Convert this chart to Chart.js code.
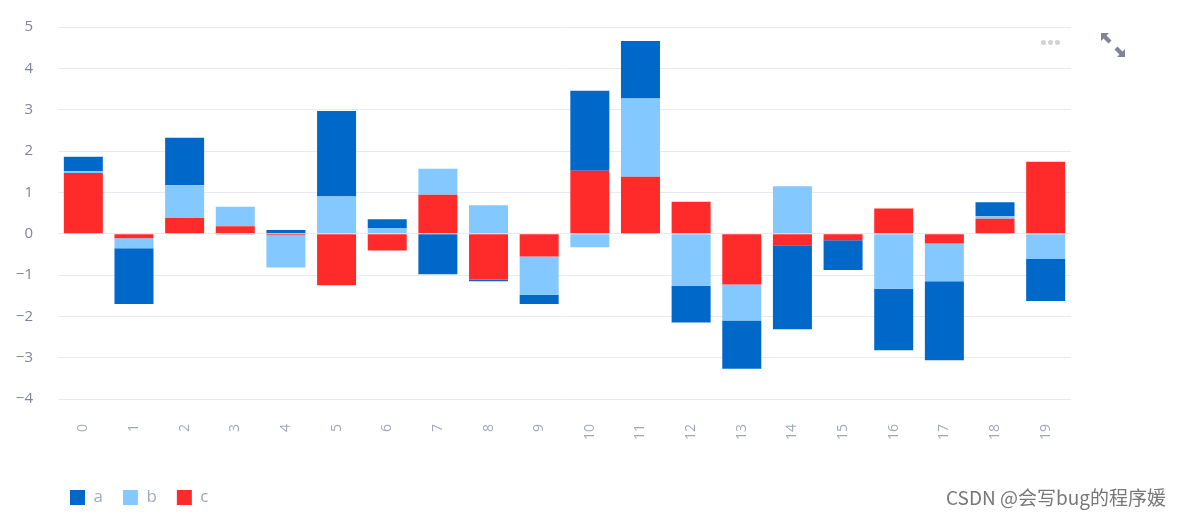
<!DOCTYPE html>
<html>
<head>
<meta charset="utf-8">
<script src="https://cdn.jsdelivr.net/npm/chart.js@4.4.1/dist/chart.umd.min.js"></script>
<style>
  html, body { margin: 0; padding: 0; background: #ffffff; }
  #wrap { position: relative; width: 1185px; height: 517px; overflow: hidden; }
  #c { position: absolute; left: 0; top: 0; }
  #wm { position: absolute; left: 946px; top: 483px; font-family: "Noto Sans CJK SC", "Noto Sans", sans-serif; font-size: 19px; color: #777777; white-space: nowrap; }
  #dots { position: absolute; left: 1041px; top: 40px; display: flex; gap: 2px; }
  #dots span { display: block; width: 5px; height: 5px; border-radius: 50%; background: #d0d2d8; }
  #exp { position: absolute; left: 1101px; top: 33px; }
</style>
</head>
<body>
<div id="wrap">
  <canvas id="c" width="1185" height="517"></canvas>
  <div id="dots"><span></span><span></span><span></span></div>
  <svg id="exp" width="24" height="24" viewBox="0 0 24 24">
    <polygon points="0,0 8,0 5.5,2.5 10.5,7.5 7.5,10.5 2.5,5.5 0,8" fill="#808495"/>
    <polygon points="24,24 16,24 18.5,21.5 13.5,16.5 16.5,13.5 21.5,18.5 24,16" fill="#808495"/>
  </svg>
  <div id="wm">CSDN @会写bug的程序媛</div>
</div>
<script>
const categories = ["0","1","2","3","4","5","6","7","8","9","10","11","12","13","14","15","16","17","18","19"];
const seriesA = [0.35, -1.35, 1.15, -0.02, 0.09, 2.07, 0.21, -0.98, -0.04, -0.22, 1.94, 1.39, -0.89, -1.17, -2.03, -0.72, -1.49, -1.91, 0.34, -1.02];
const seriesB = [0.04, -0.24, 0.79, 0.47, -0.78, 0.90, 0.14, 0.63, 0.69, -0.93, -0.33, 1.89, -1.26, -0.87, 1.15, 0.00, -1.33, -0.91, 0.06, -0.61];
const seriesC = [1.47, -0.11, 0.38, 0.18, -0.04, -1.25, -0.41, 0.94, -1.11, -0.55, 1.52, 1.38, 0.77, -1.23, -0.28, -0.16, 0.61, -0.24, 0.36, 1.74];
const yTicks = [-4, -3, -2, -1, 0, 1, 2, 3, 4, 5];

const colA = "#0068c9", colB = "#83c9ff", colC = "#ff2b2b";

const legendShift = {
  id: "legendShift",
  afterLayout(chart) {
    const lg = chart.legend;
    if (lg) { const w = lg.right - lg.left; lg.left = 50; lg.right = 50 + w; }
  }
};

new Chart(document.getElementById("c"), {
  type: "bar",
  data: {
    labels: categories,
    datasets: [
      { label: "c", data: seriesC, backgroundColor: colC, borderWidth: 0 },
      { label: "b", data: seriesB, backgroundColor: colB, borderWidth: 0 },
      { label: "a", data: seriesA, backgroundColor: colA, borderWidth: 0 }
    ]
  },
  plugins: [legendShift],
  options: {
    responsive: false,
    animation: false,
    layout: { padding: { left: 0, right: 114, top: 27, bottom: 1 } },
    datasets: { bar: { categoryPercentage: 1.0, barPercentage: 0.77 } },
    plugins: {
      tooltip: { enabled: false },
      legend: {
        position: "bottom",
        align: "start",
        reverse: true,
        labels: {
          boxWidth: 15, boxHeight: 15, padding: 20,
          color: "#a3a8b8",
          font: { family: "Open Sans", size: 17 }
        }
      }
    },
    scales: {
      x: {
        stacked: true,
        grid: { display: false, drawTicks: false },
        border: { display: false },
        ticks: {
          minRotation: 90, maxRotation: 90, padding: 25,
          color: "#a3a8b8",
          font: { family: "Open Sans", size: 14 }
        },
        afterFit: (s) => { s.height = 70; }
      },
      y: {
        stacked: true,
        min: -4, max: 5,
        afterBuildTicks: (s) => { s.ticks = yTicks.map(v => ({ value: v })); },
        grid: { color: "#e8eaf1", lineWidth: 1, drawTicks: false },
        border: { display: false },
        ticks: {
          padding: 25,
          color: "#808495",
          font: { family: "Open Sans", size: 15 },
          callback: (v) => (v < 0 ? "\u2212" + Math.abs(v) : String(v))
        },
        afterFit: (s) => { s.width = 58; s.paddingTop = 8; s.paddingBottom = 8; }
      }
    }
  }
});
</script>
</body>
</html>
